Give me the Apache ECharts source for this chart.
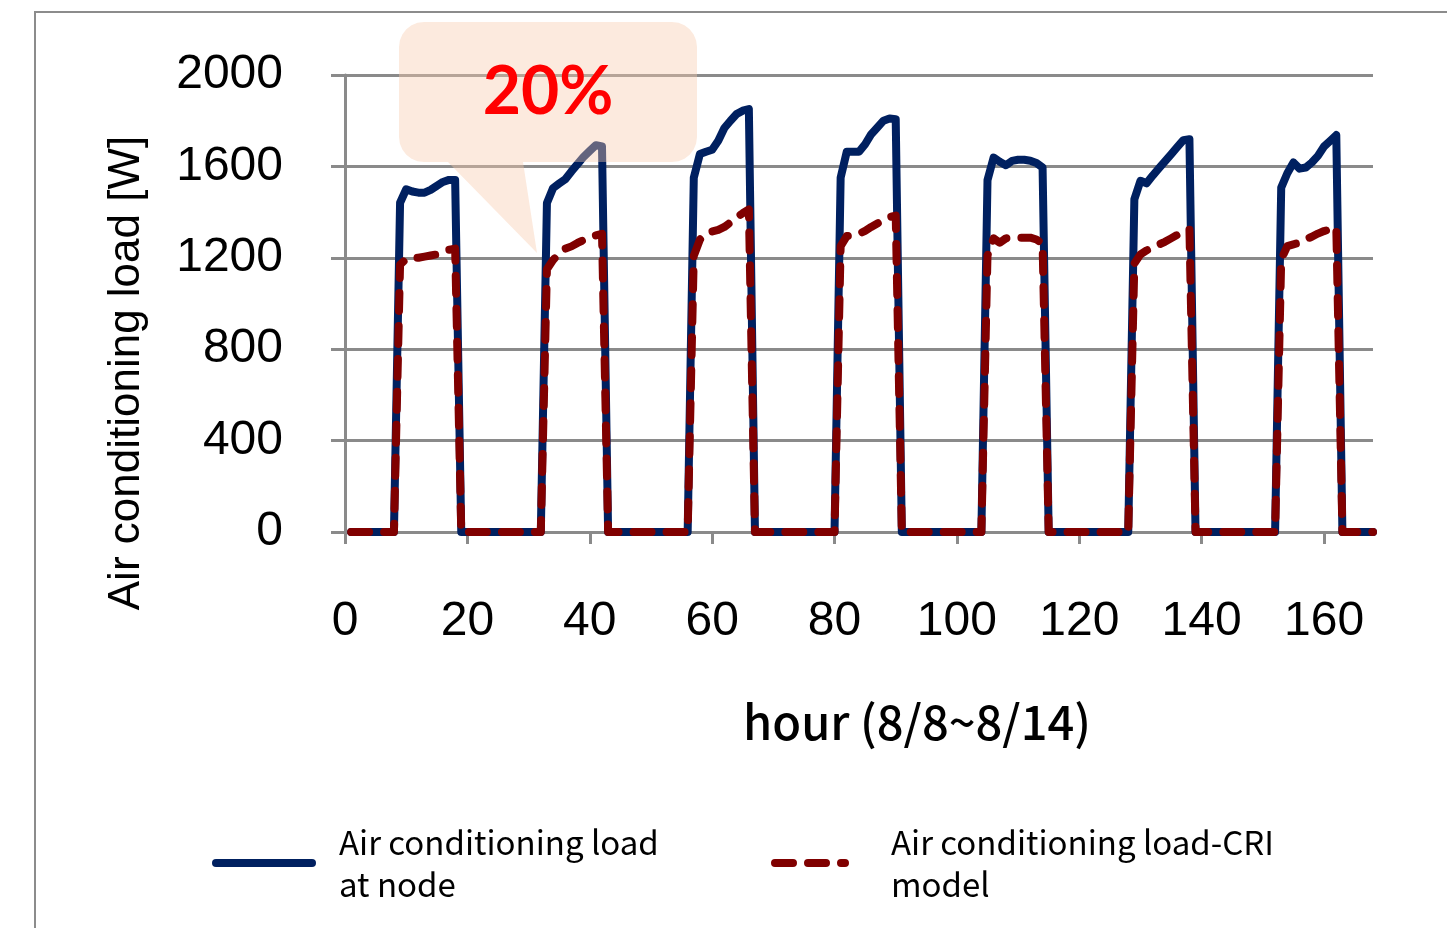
<!DOCTYPE html>
<html>
<head>
<meta charset="utf-8">
<title>Air conditioning load</title>
<script src="https://cdn.jsdelivr.net/npm/echarts@6/dist/echarts.min.js"></script>
<style>
html, body { margin: 0; padding: 0; background: #fff; }
#chart { width: 1447px; height: 928px; }
</style>
</head>
<body>
<div id="chart"></div>
<script>
// hourly values, 8/8 ~ 8/14 (hour 1..168)
const hours = Array.from({ length: 168 }, (_, i) => i + 1)
const xTicks = [0, 20, 40, 60, 80, 100, 120, 140, 160]

const nodeLoad = [
 0, 0, 0, 0, 0, 0, 0, 0,
 1441, 1500, 1490, 1485, 1485, 1497, 1515, 1532, 1541, 1541,
 0, 0, 0, 0, 0, 0, 0, 0, 0, 0, 0, 0, 0, 0,
 1440, 1505, 1525, 1544, 1578, 1610, 1642, 1668, 1693, 1687,
 0, 0, 0, 0, 0, 0, 0, 0, 0, 0, 0, 0, 0, 0,
 1550, 1654, 1664, 1673, 1712, 1768, 1800, 1829, 1844, 1851,
 0, 0, 0, 0, 0, 0, 0, 0, 0, 0, 0, 0, 0, 0,
 1551, 1664, 1664, 1664, 1697, 1741, 1770, 1800, 1810, 1807,
 0, 0, 0, 0, 0, 0, 0, 0, 0, 0, 0, 0, 0, 0,
 1540, 1639, 1620, 1605, 1624, 1629, 1629, 1625, 1615, 1595,
 0, 0, 0, 0, 0, 0, 0, 0, 0, 0, 0, 0, 0, 0,
 1456, 1537, 1526, 1560, 1591, 1622, 1653, 1684, 1715, 1719,
 0, 0, 0, 0, 0, 0, 0, 0, 0, 0, 0, 0, 0, 0,
 1507, 1570, 1617, 1590, 1595, 1617, 1646, 1687, 1712, 1737,
 0, 0, 0, 0, 0, 0
]

const criLoad = [
 0, 0, 0, 0, 0, 0, 0, 0,
 1170, 1195, 1200, 1200, 1205, 1210, 1215, 1225, 1235, 1240,
 0, 0, 0, 0, 0, 0, 0, 0, 0, 0, 0, 0, 0, 0,
 1150, 1190, 1220, 1240, 1250, 1265, 1278, 1290, 1298, 1305,
 0, 0, 0, 0, 0, 0, 0, 0, 0, 0, 0, 0, 0, 0,
 1208, 1280, 1305, 1315, 1322, 1335, 1355, 1377, 1395, 1412,
 0, 0, 0, 0, 0, 0, 0, 0, 0, 0, 0, 0, 0, 0,
 1251, 1295, 1298, 1305, 1318, 1335, 1350, 1365, 1378, 1385,
 0, 0, 0, 0, 0, 0, 0, 0, 0, 0, 0, 0, 0, 0,
 1210, 1285, 1266, 1285, 1288, 1288, 1288, 1288, 1280, 1262,
 0, 0, 0, 0, 0, 0, 0, 0, 0, 0, 0, 0, 0, 0,
 1175, 1215, 1232, 1245, 1258, 1270, 1285, 1300, 1317, 1325,
 0, 0, 0, 0, 0, 0, 0, 0, 0, 0, 0, 0, 0, 0,
 1193, 1251, 1259, 1266, 1281, 1292, 1306, 1317, 1325, 1332,
 0, 0, 0, 0, 0, 0
]

const nodeName = 'Air conditioning load at node'
const criName = 'Air conditioning load-CRI model'

const axisGray = '#8a8a8a'
const tickFont = { fontFamily: 'Liberation Sans', fontSize: 48, color: '#000' }
const legendText = {
 fontFamily: 'Noto Sans CJK JP',
 fontSize: 33,
 lineHeight: 42,
 color: '#000',
 padding: [10, 0, 0, 22]
}

// speech bubble outline: rounded box with a pointer at the bottom left
const bubblePoints = () => {
 const x0 = 399, y0 = 22, x1 = 697, y1 = 162, r = 25
 const pts = []
 const arc = (cx, cy, a0) => {
  for (let k = 0; k <= 6; k++) {
   const a = a0 + (k / 6) * Math.PI / 2
   pts.push([cx + r * Math.cos(a), cy + r * Math.sin(a)])
  }
 }
 arc(x0 + r, y0 + r, Math.PI)
 arc(x1 - r, y0 + r, -Math.PI / 2)
 arc(x1 - r, y1 - r, 0)
 pts.push([523, y1], [537, 253], [448, y1])
 arc(x0 + r, y1 - r, Math.PI / 2)
 return pts
}

const setOption = () => {
 return {
  animation: false,
  grid: { left: 345, right: 74, top: 75, bottom: 396 },
  xAxis: {
   type: 'value',
   min: 0,
   max: 168,
   interval: 20,
   axisLine: { show: true, onZero: false, lineStyle: { color: axisGray, width: 3 } },
   axisTick: { show: true, length: 12, customValues: xTicks, lineStyle: { color: axisGray, width: 3 } },
   axisLabel: { ...tickFont, margin: 66, customValues: xTicks },
   splitLine: { show: false }
  },
  yAxis: {
   type: 'value',
   min: 0,
   max: 2000,
   interval: 400,
   axisLine: { show: true, lineStyle: { color: axisGray, width: 3 } },
   axisTick: { show: true, length: 14, lineStyle: { color: axisGray, width: 3 } },
   axisLabel: { ...tickFont, margin: 62, formatter: v => String(v) },
   splitLine: { show: true, lineStyle: { color: axisGray, width: 3 } }
  },
  legend: [
   {
    data: [nodeName],
    left: 207,
    top: 811,
    itemWidth: 96,
    itemHeight: 14,
    formatter: () => 'Air conditioning load\nat node',
    textStyle: legendText,
    itemStyle: { opacity: 0 },
    lineStyle: { width: 8, cap: 'round' },
    selectedMode: false
   },
   {
    data: [criName],
    left: 766,
    top: 811,
    itemWidth: 70,
    itemHeight: 14,
    formatter: () => 'Air conditioning load-CRI\nmodel',
    textStyle: { ...legendText, padding: [10, 0, 0, 41] },
    itemStyle: { opacity: 0 },
    lineStyle: { width: 8, cap: 'round' },
    selectedMode: false
   }
  ],
  graphic: [
   {
    type: 'rect',
    silent: true,
    z: 0,
    shape: { x: 35, y: 12, width: 1500, height: 1000 },
    style: { fill: 'none', stroke: '#8c8c8c', lineWidth: 2 }
   },
   {
    type: 'polygon',
    silent: true,
    z: 20,
    shape: { points: bubblePoints() },
    style: { fill: 'rgba(248,203,173,0.4)' }
   },
   {
    type: 'text',
    silent: true,
    z: 21,
    x: 548,
    y: 93,
    style: {
     text: '20%',
     fill: '#ff0000',
     font: 'bold 66px Lato',
     align: 'center',
     verticalAlign: 'middle'
    }
   },
   {
    type: 'text',
    silent: true,
    z: 21,
    x: 127,
    y: 373,
    rotation: Math.PI / 2,
    style: {
     text: 'Air conditioning load [W]',
     fill: '#000',
     font: '44px Liberation Sans',
     align: 'center',
     verticalAlign: 'middle'
    }
   },
   {
    type: 'text',
    silent: true,
    z: 21,
    x: 917,
    y: 722,
    style: {
     text: 'hour (8/8~8/14)',
     fill: '#000',
     font: '500 47px "Noto Sans CJK JP"',
     align: 'center',
     verticalAlign: 'middle'
    }
   }
  ],
  series: [
   {
    name: nodeName,
    type: 'line',
    data: hours.map((h, i) => [h, nodeLoad[i]]),
    showSymbol: false,
    symbol: 'none',
    z: 3,
    lineStyle: { color: '#002060', width: 8, cap: 'round', join: 'round' },
    itemStyle: { color: '#002060' },
    emphasis: { disabled: true }
   },
   {
    name: criName,
    type: 'line',
    data: hours.map((h, i) => [h, criLoad[i]]),
    showSymbol: false,
    symbol: 'none',
    z: 4,
    lineStyle: { color: '#800000', width: 8, type: [18, 15], cap: 'round', join: 'round' },
    itemStyle: { color: '#800000' },
    emphasis: { disabled: true }
   }
  ]
 }
}

const chartDom = document.getElementById('chart')
const myChart = echarts.init(chartDom)
myChart.setOption(setOption(), true)
</script>
</body>
</html>
